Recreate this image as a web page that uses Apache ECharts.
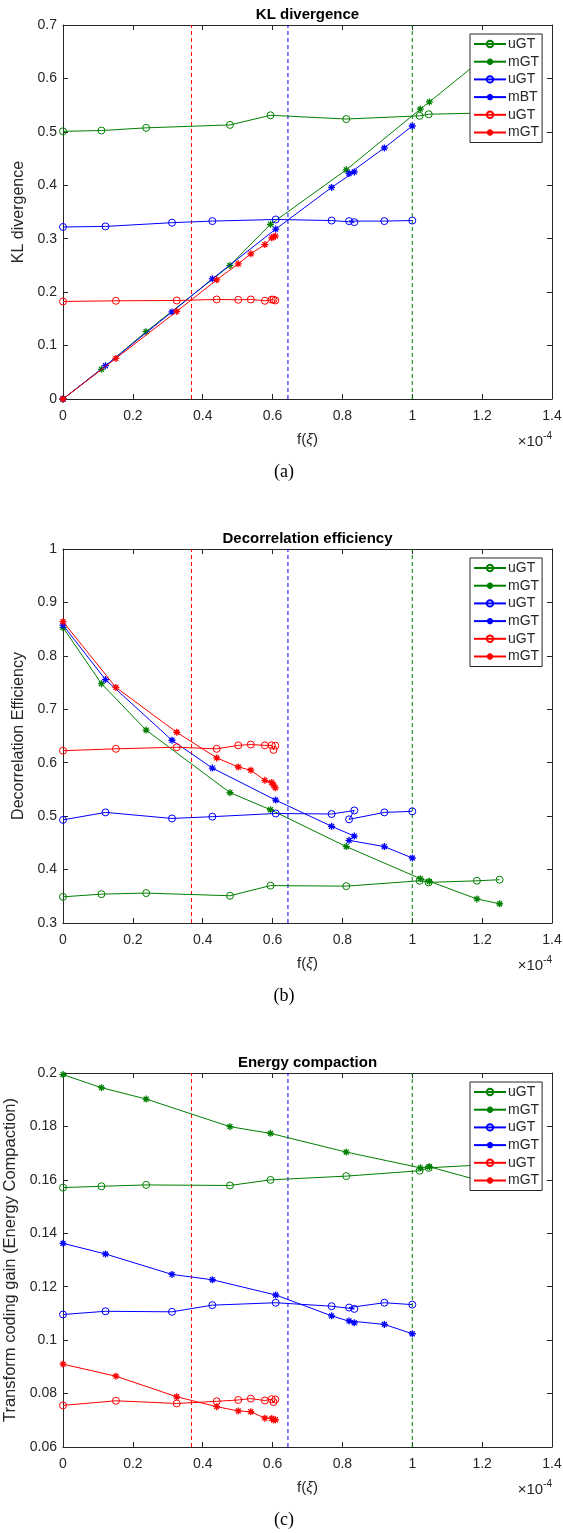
<!DOCTYPE html>
<html>
<head>
<meta charset="utf-8">
<script src="https://cdn.jsdelivr.net/npm/echarts@6/dist/echarts.min.js"></script>
<style>
html,body{margin:0;padding:0;background:#fff;}
#c{width:563px;height:1533px;}
</style>
</head>
<body>
<div id="c"></div>
<script>
// ---------- data (x in units of 1e-4) ----------
const xTicks = [0, 0.2, 0.4, 0.6, 0.8, 1, 1.2, 1.4];
const thresholds = [0.368, 0.644, 1.0];           // red, blue, green dashed lines
const thresholdColors = ['#ff0000', '#0000ff', '#008000'];

const xGreenU = [0, 0.110, 0.238, 0.478, 0.594, 0.811, 1.021, 1.047, 1.185, 1.25];
const xGreenM = [0, 0.110, 0.238, 0.478, 0.594, 0.811, 1.023, 1.049, 1.185, 1.25];
const xBlue   = [0, 0.1216, 0.312, 0.4276, 0.609, 0.769, 0.834, 0.819, 0.920, 1.0];
const xRed    = [0, 0.1514, 0.3256, 0.44, 0.5017, 0.5377, 0.578, 0.5975, 0.6027, 0.608];

// (a) KL divergence
const klGreenU = [0.501, 0.5025, 0.5075, 0.513, 0.531, 0.524, 0.530, 0.533, 0.535, 0.537];
const klGreenM = [0, 0.0555, 0.126, 0.250, 0.327, 0.429, 0.5425, 0.556, 0.628, 0.663];
const klBlueU  = [0.322, 0.323, 0.330, 0.333, 0.336, 0.334, 0.331, 0.333, 0.333, 0.334];
const klBlueM  = [0, 0.0623, 0.163, 0.225, 0.318, 0.396, 0.425, 0.422, 0.470, 0.511];
const klRedU   = [0.1826, 0.1838, 0.1844, 0.1863, 0.1857, 0.1863, 0.1838, 0.186, 0.186, 0.1844];
const klRedM   = [0, 0.076, 0.1639, 0.223, 0.253, 0.2717, 0.289, 0.3016, 0.3034, 0.305];

// (b) Decorrelation efficiency
const deGreenU = [0.349, 0.354, 0.356, 0.351, 0.370, 0.369, 0.379, 0.376, 0.379, 0.381];
const deGreenM = [0.853, 0.748, 0.661, 0.544, 0.512, 0.443, 0.383, 0.378, 0.345, 0.336];
const deBlueU  = [0.493, 0.507, 0.4957, 0.499, 0.505, 0.504, 0.5106, 0.494, 0.507, 0.509];
const deBlueM  = [0.8575, 0.7556, 0.642, 0.590, 0.530, 0.481, 0.4627, 0.4547, 0.443, 0.4217];
const deRedU   = [0.6225, 0.626, 0.629, 0.626, 0.6325, 0.634, 0.6325, 0.6325, 0.624, 0.632];
const deRedM   = [0.864, 0.741, 0.657, 0.609, 0.592, 0.586, 0.567, 0.563, 0.558, 0.553];

// (c) Energy compaction
const ecGreenU = [0.1571, 0.1576, 0.1581, 0.1579, 0.1600, 0.1614, 0.1634, 0.1645, 0.1655, 0.1660];
const ecGreenM = [0.1994, 0.1945, 0.19025, 0.1799, 0.1774, 0.1704, 0.1645, 0.1649, 0.1600, 0.1576];
const ecBlueU  = [0.1096, 0.1108, 0.1106, 0.1131, 0.1140, 0.1127, 0.1117, 0.1122, 0.1140, 0.1133];
const ecBlueM  = [0.13625, 0.13225, 0.1246, 0.1226, 0.1169, 0.1091, 0.1065, 0.1072, 0.1059, 0.1024];
const ecRedU   = [0.07558, 0.0773, 0.0763, 0.0771, 0.0776, 0.0781, 0.0774, 0.0779, 0.0768, 0.0778];
const ecRedM   = [0.091, 0.0865, 0.0788, 0.0751, 0.0735, 0.0732, 0.0708, 0.0707, 0.0701, 0.0702];

const titles = ['KL divergence', 'Decorrelation efficiency', 'Energy compaction'];
const yNames = ['KL divergence', 'Decorrelation Efficiency', 'Transform coding gain (Energy Compaction)'];
const captions = ['(a)', '(b)', '(c)'];
const yMin = [0, 0.3, 0.06];
const yMax = [0.7, 1, 0.2];
const yStep = [0.1, 0.1, 0.02];
const legendNames = [
  ['uGT', 'mGT', 'uGT', 'mBT', 'uGT', 'mGT'],
  ['uGT', 'mGT', 'uGT', 'mGT', 'uGT', 'mGT'],
  ['uGT', 'mGT', 'uGT', 'mGT', 'uGT', 'mGT']
];

// ---------- layout ----------
const GL = 63, GW = 489, GH = 374;
const gridTops = [25, 549, 1073];
const FONT = 'Liberation Sans, Arial, sans-serif';
const AX = '#262626';
const STAR = 'path://M0,-5L0,5M-5,0L5,0M-3.5,-3.5L3.5,3.5M-3.5,3.5L3.5,-3.5';

const panels = [
  [klGreenU, klGreenM, klBlueU, klBlueM, klRedU, klRedM],
  [deGreenU, deGreenM, deBlueU, deBlueM, deRedU, deRedM],
  [ecGreenU, ecGreenM, ecBlueU, ecBlueM, ecRedU, ecRedM]
];
const xs = [xGreenU, xGreenM, xBlue, xBlue, xRed, xRed];
const cols = ['#008000', '#008000', '#0000ff', '#0000ff', '#ff0000', '#ff0000'];

const grid = [], xAxis = [], yAxis = [], series = [], legend = [], graphic = [];

gridTops.forEach((top, p) => {
  grid.push({left: GL, top: top, width: GW, height: GH, containLabel: false, outerBoundsMode: 'none'});
  const axLine = {show: true, onZero: false, lineStyle: {color: AX, width: 1}};
  const tick = {show: true, inside: true, length: 5, lineStyle: {color: AX, width: 1}};
  xAxis.push({
    type: 'value', gridIndex: p, min: xTicks[0], max: xTicks[xTicks.length - 1], interval: 0.2,
    axisLine: axLine, axisTick: tick, splitLine: {show: false},
    axisLabel: {color: AX, fontSize: 14, fontFamily: FONT, margin: 10,
      formatter: v => String(+v.toFixed(1))},
    name: '{n|f(}{i|ξ}{n|)}', nameLocation: 'middle', nameGap: 33,
    nameTextStyle: {rich: {
      n: {fontSize: 15, fontFamily: FONT, color: AX},
      i: {fontSize: 15, fontFamily: FONT, color: AX, fontStyle: 'italic'}}}
  });
  xAxis.push({
    type: 'value', gridIndex: p, position: 'top', min: xTicks[0], max: xTicks[xTicks.length - 1], interval: 0.2,
    axisLine: axLine, axisTick: tick, splitLine: {show: false}, axisLabel: {show: false}
  });
  yAxis.push({
    type: 'value', gridIndex: p, min: yMin[p], max: yMax[p], interval: yStep[p],
    axisLine: axLine, axisTick: tick, splitLine: {show: false},
    axisLabel: {color: AX, fontSize: 14, fontFamily: FONT, margin: 6,
      formatter: v => String(+v.toFixed(2))},
    name: yNames[p], nameLocation: 'middle', nameGap: p === 2 ? 38 : 31,
    nameTextStyle: {color: AX, fontSize: p === 2 ? 16.5 : 16, fontFamily: FONT}
  });
  yAxis.push({
    type: 'value', gridIndex: p, position: 'right', min: yMin[p], max: yMax[p], interval: yStep[p],
    axisLine: axLine, axisTick: tick, splitLine: {show: false}, axisLabel: {show: false}
  });

  // dashed threshold lines
  thresholds.forEach((t, k) => {
    series.push({
      type: 'line', xAxisIndex: 2 * p, yAxisIndex: 2 * p, silent: true, symbol: 'none',
      data: [[t, yMin[p]], [t, yMax[p]]],
      lineStyle: {color: thresholdColors[k], width: 1, type: [4, 3]}, z: 1
    });
  });

  const names = [];
  panels[p].forEach((ys, s) => {
    const nm = legendNames[p][s] + '#' + p + s;
    names.push(nm);
    const hollow = s % 2 === 0;
    series.push({
      type: 'line', name: nm, xAxisIndex: 2 * p, yAxisIndex: 2 * p,
      data: ys.map((v, i) => [xs[s][i], v]),
      symbol: hollow ? 'circle' : STAR,
      symbolSize: 7,
      showAllSymbol: true,
      lineStyle: {color: cols[s], width: 1},
      itemStyle: hollow
        ? {color: 'rgba(255,255,255,0)', borderColor: cols[s], borderWidth: 1}
        : {color: cols[s], borderColor: cols[s], borderWidth: 1.3},
      z: 2 + s * 0.01
    });
  });

  legend.push({
    data: names, orient: 'vertical', left: 470, top: gridTops[p] + 9,
    itemWidth: 32, itemHeight: 8, itemGap: 3.7,
    padding: [3, 3, 3, 3], backgroundColor: '#fff', borderColor: AX, borderWidth: 1, borderRadius: 0,
    formatter: n => n.split('#')[0],
    textStyle: {color: AX, fontSize: 14, fontFamily: FONT, padding: [0, 0, 0, -3], lineHeight: 14, height: 14},
    selectedMode: false, z: 10
  });

  graphic.push({
    type: 'text', x: GL + GW / 2, y: gridTops[p] - 10, z: 20,
    style: {text: titles[p], font: 'bold 15px ' + FONT, fill: '#000', textAlign: 'center', textVerticalAlign: 'middle'}
  });
  graphic.push({
    type: 'text', x: GL + GW, y: gridTops[p] + GH + 41, z: 20,
    style: {text: '{a|×10}{b|-4}', textAlign: 'right', textVerticalAlign: 'middle',
      rich: {a: {fontSize: 15, fontFamily: FONT, fill: AX, color: AX, lineHeight: 18, verticalAlign: 'bottom'},
             b: {fontSize: 10, fontFamily: FONT, fill: AX, color: AX, lineHeight: 18, verticalAlign: 'top'}}}
  });
  graphic.push({
    type: 'text', x: 284, y: gridTops[p] + GH + 73, z: 20,
    style: {text: captions[p], font: '18px "Liberation Serif", "DejaVu Serif", serif', fill: '#000', textAlign: 'center', textVerticalAlign: 'middle'}
  });
});

const chart = echarts.init(document.getElementById('c'), null, {renderer: 'canvas', width: 563, height: 1533});
chart.setOption({
  animation: false,
  backgroundColor: '#fff',
  grid, xAxis, yAxis, series, legend, graphic
});
</script>
</body>
</html>
